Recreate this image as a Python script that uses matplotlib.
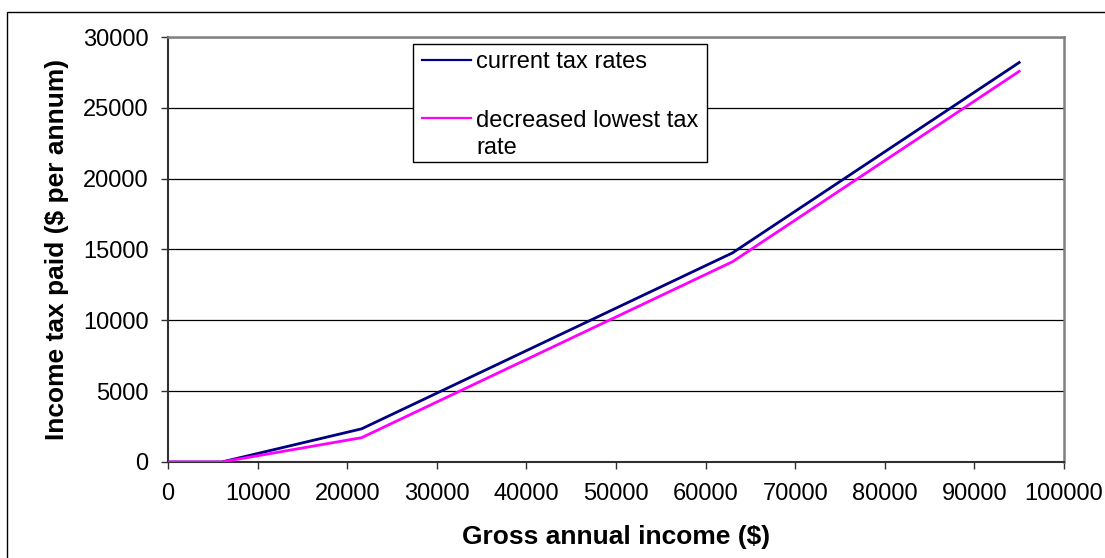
import matplotlib
matplotlib.use("Agg")
import matplotlib.pyplot as plt
from matplotlib.patches import Rectangle
from matplotlib.lines import Line2D

plt.rcParams['font.family'] = ['Liberation Sans', 'DejaVu Sans']

# Income thresholds and tax paid under each scheme
income = [0, 6000, 21600, 63000, 95000]
tax_current = [0, 0, 2340, 14760, 28200]
tax_decreased = [0, 0, 1716, 14136, 27576]

series_labels = ["current tax rates", "decreased lowest tax\nrate"]
series_colors = ["#000080", "#FF00FF"]

x_ticks = list(range(0, 100001, 10000))
y_ticks = list(range(0, 30001, 5000))

W, H = 1105, 558
fig = plt.figure(figsize=(W / 100, H / 100), dpi=100)
fig.patch.set_facecolor("white")

# outer chart frame
fig.add_artist(Rectangle((7 / W, -0.05), 1.2, 1 - 12 / H + 0.05,
                         transform=fig.transFigure, fill=False,
                         edgecolor="black", linewidth=1.0))

L, R, T, B = 168, 1064, 37, 462
ax = fig.add_axes([L / W, 1 - B / H, (R - L) / W, (B - T) / H])


def ax_x(px):
    return (px - L) / (R - L)


def ax_y(py):
    return (B - py) / (B - T)


ax.plot(income, tax_current, color=series_colors[0], linewidth=2.0,
        solid_joinstyle="miter", zorder=3)
ax.plot(income, tax_decreased, color=series_colors[1], linewidth=2.0,
        solid_joinstyle="miter", zorder=3)

ax.set_xlim(0, 100000)
ax.set_ylim(0, 30000)
ax.set_xticks(x_ticks)
ax.set_yticks(y_ticks)
ax.set_xticklabels([str(v) for v in x_ticks])
ax.set_yticklabels([str(v) for v in y_ticks])
ax.tick_params(axis="both", direction="out", length=5, width=1,
               color="#303030", labelsize=17)
ax.tick_params(axis="y", pad=9)
ax.tick_params(axis="x", pad=10)

ax.yaxis.grid(True, color="black", linewidth=0.9)
ax.set_axisbelow(True)

for side in ("left", "bottom"):
    ax.spines[side].set_color("#303030")
    ax.spines[side].set_linewidth(1.5)
for side in ("top", "right"):
    ax.spines[side].set_color("#808080")
    ax.spines[side].set_linewidth(1.8)

ax.set_xlabel("Gross annual income ($)", fontsize=19, fontweight="bold")
ax.set_ylabel("Income tax paid ($ per annum)", fontsize=19,
              fontweight="bold")
ax.xaxis.set_label_coords(0.5, ax_y(525))
ax.yaxis.set_label_coords(ax_x(69), 0.5)

# legend box
ax.add_patch(Rectangle((ax_x(413), ax_y(162)), ax_x(707) - ax_x(413),
                       ax_y(44) - ax_y(162), transform=ax.transAxes,
                       facecolor="white", edgecolor="black", linewidth=1.0,
                       zorder=5))
line_y = [60, 118]
line_gap = 28
for ly, lab, col in zip(line_y, series_labels, series_colors):
    ax.add_line(Line2D([ax_x(422), ax_x(471)], [ax_y(ly), ax_y(ly)],
                       transform=ax.transAxes, color=col, linewidth=1.6,
                       zorder=6))
    # baseline of the label's last line, the first line sits beside the swatch
    base = ly + 8.5 + line_gap * lab.count("\n")
    ax.text(ax_x(476), ax_y(base), lab, transform=ax.transAxes,
            fontsize=17, va="baseline", ha="left", zorder=6,
            linespacing=1.3)

fig.savefig("out.png", dpi=100)
